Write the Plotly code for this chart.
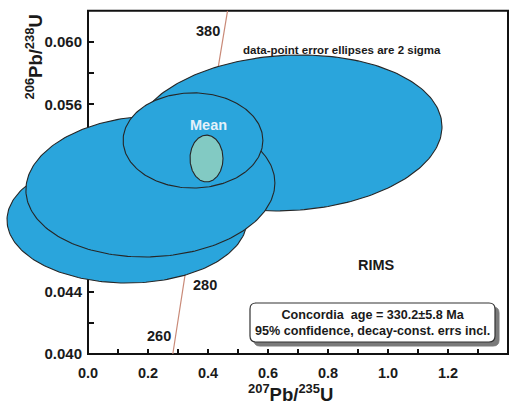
import numpy as np
import plotly.graph_objects as go

# 2-sigma error ellipses of the rim analyses (207Pb/235U vs 206Pb/238U)
spot_x = [0.130, 0.667, 0.208, 0.350]
spot_sx = [0.400, 0.513, 0.415, 0.233]
spot_y = [0.04859, 0.05417, 0.05074, 0.05369]
spot_sy = [0.00404, 0.00500, 0.00452, 0.00305]
spot_rho = [0.00, 0.08, 0.05, 0.00]

# weighted mean (concordia age) ellipse
mean_x = 0.395
mean_sx = 0.055
mean_y = 0.05253
mean_sy = 0.00150
mean_rho = 0.0

# concordia curve, ages in Ma
conc_age = [252.8, 260, 280, 300, 320, 340, 360, 380, 387.8]
conc_x = [0.2827, 0.29183, 0.31753, 0.34374, 0.37047, 0.39773, 0.42553, 0.45389, 0.4651]
conc_y = [0.0400, 0.041157, 0.044392, 0.047637, 0.050893, 0.054158, 0.057434, 0.060719, 0.0620]
age_labels = [260, 280, 380]

x_ticks = [0.0, 0.2, 0.4, 0.6, 0.8, 1.0, 1.2, 1.4]
x_minor = [0.1, 0.3, 0.5, 0.7, 0.9, 1.1, 1.3]
y_ticks = [0.040, 0.044, 0.048, 0.052, 0.056, 0.060]
y_minor = [0.042, 0.046, 0.050, 0.054, 0.058]

W, H = 518, 404
X0_PX, XSCALE = 88, 300.0      # pixel of x=0, pixels per unit
Y0_PX, YSCALE = 354, 15600.0   # pixel of y=0.040, pixels per unit
x_range = [-X0_PX / XSCALE, (W - X0_PX) / XSCALE]
y_range = [0.040 - (H - Y0_PX) / YSCALE, 0.040 + Y0_PX / YSCALE]

FONT = "Liberation Sans"
BLUE = "#2AA5DC"
TEAL = "#82CAC3"
EDGE = "#262626"


def ellipse(cx, sx, cy, sy, rho, n=241):
    t = np.linspace(0, 2 * np.pi, n)
    ex = cx + sx * np.cos(t)
    ey = cy + sy * (rho * np.cos(t) + np.sqrt(1 - rho ** 2) * np.sin(t))
    return ex, ey


fig = go.Figure()

# concordia line
fig.add_trace(go.Scatter(x=conc_x, y=conc_y, mode="lines",
                         line=dict(color="#C98A78", width=1.2),
                         hoverinfo="skip", showlegend=False))

# data-point ellipses, drawn back to front
for i in [0, 1, 2, 3]:
    ex, ey = ellipse(spot_x[i], spot_sx[i], spot_y[i], spot_sy[i], spot_rho[i])
    fig.add_trace(go.Scatter(x=ex, y=ey, mode="lines", fill="toself",
                             fillcolor=BLUE, line=dict(color=EDGE, width=1.1),
                             hoverinfo="skip", showlegend=False))

ex, ey = ellipse(mean_x, mean_sx, mean_y, mean_sy, mean_rho)
fig.add_trace(go.Scatter(x=ex, y=ey, mode="lines", fill="toself",
                         fillcolor=TEAL, line=dict(color=EDGE, width=1.1),
                         hoverinfo="skip", showlegend=False))

# plot frame
fig.add_shape(type="rect", xref="x", yref="y", x0=0.0, x1=1.4, y0=0.040, y1=0.062,
              line=dict(color="#111111", width=2), layer="below")


def rounded_box(x0, x1, y0, y1, rx, ry):
    return (f"M {x0 + rx},{y0} L {x1 - rx},{y0} Q {x1},{y0} {x1},{y0 + ry} "
            f"L {x1},{y1 - ry} Q {x1},{y1} {x1 - rx},{y1} L {x0 + rx},{y1} "
            f"Q {x0},{y1} {x0},{y1 - ry} L {x0},{y0 + ry} Q {x0},{y0} {x0 + rx},{y0} Z")


bx0, bx1 = (250 - X0_PX) / XSCALE, (495 - X0_PX) / XSCALE
by0, by1 = 0.040 + (Y0_PX - 342) / YSCALE, 0.040 + (Y0_PX - 303) / YSCALE
rx, ry = 6 / XSCALE, 6 / YSCALE
dx, dy = 4 / XSCALE, 4 / YSCALE
fig.add_shape(type="path", xref="x", yref="y",
              path=rounded_box(bx0 + dx, bx1 + dx, by0 - dy, by1 - dy, rx, ry),
              fillcolor="#7a7a7a", line=dict(color="#7a7a7a", width=1), layer="above")
fig.add_shape(type="path", xref="x", yref="y",
              path=rounded_box(bx0, bx1, by0, by1, rx, ry),
              fillcolor="white", line=dict(color="#333333", width=1.2), layer="above")

annotations = [
    dict(x=(bx0 + bx1) / 2, y=(by0 + by1) / 2, xref="x", yref="y",
         text="Concordia  age = 330.2±5.8 Ma<br>95% confidence, decay-const. errs incl.",
         showarrow=False, font=dict(family=FONT, size=12.6, color="#1a1a1a", weight="bold")),
    dict(x=0.847, y=0.05949, xref="x", yref="y", text="data-point error ellipses are 2 sigma",
         showarrow=False, font=dict(family=FONT, size=11.5, color="#1a1a1a", weight="bold")),
    dict(x=0.963, y=0.04571, xref="x", yref="y", text="RIMS",
         showarrow=False, font=dict(family=FONT, size=14.5, color="#1a1a1a", weight="bold")),
    dict(x=0.400, y=0.05468, xref="x", yref="y", text="Mean",
         showarrow=False, font=dict(family=FONT, size=14.5, color="#E4F1FA", weight="bold")),
    dict(x=20 / W, y=(H - 13) / H, xref="paper", yref="paper", yanchor="top",
         text="<sup>206</sup>Pb/<sup>238</sup>U", textangle=-90, showarrow=False,
         font=dict(family=FONT, size=18.5, color="#1a1a1a", weight="bold")),
    dict(x=290 / W, y=0, xref="paper", yref="paper", yanchor="bottom", yshift=-3,
         text="<sup>207</sup>Pb/<sup>235</sup>U", showarrow=False,
         font=dict(family=FONT, size=18.5, color="#1a1a1a", weight="bold")),
]

# age labels along the concordia
label_side = {260: ("right", -3), 280: ("left", 8), 380: ("right", -2)}
for age in age_labels:
    i = conc_age.index(age)
    anchor, shift = label_side[age]
    annotations.append(dict(x=conc_x[i], y=conc_y[i], xref="x", yref="y", text=str(age),
                            xanchor=anchor, xshift=shift, showarrow=False,
                            font=dict(family=FONT, size=14.5, color="#1a1a1a", weight="bold")))

axis_common = dict(showgrid=False, zeroline=False, showline=False, ticks="inside",
                   ticklen=5, tickwidth=2, tickcolor="#111111", layer="below traces",
                   anchor="free")

fig.update_layout(
    width=W, height=H, autosize=False,
    margin=dict(l=0, r=0, t=0, b=0, pad=0),
    paper_bgcolor="white", plot_bgcolor="white",
    showlegend=False,
    xaxis=dict(range=x_range, domain=[0, 1], position=(H - Y0_PX) / H,
               tickmode="array", tickvals=x_ticks, ticktext=[f"{v:.1f}" for v in x_ticks],
               minor=dict(tickmode="array", tickvals=x_minor, ticks="inside", ticklen=5,
                          tickwidth=2, tickcolor="#111111"),
               tickfont=dict(family=FONT, size=14.5, color="#1a1a1a", weight="bold"),
               ticklabelstandoff=8, **axis_common),
    yaxis=dict(range=y_range, domain=[0, 1], position=X0_PX / W,
               tickmode="array", tickvals=y_ticks, ticktext=[f"{v:.3f}" for v in y_ticks],
               minor=dict(tickmode="array", tickvals=y_minor, ticks="inside", ticklen=5,
                          tickwidth=2, tickcolor="#111111"),
               tickfont=dict(family=FONT, size=15, color="#1a1a1a", weight="bold"),
               ticklabelstandoff=6, **axis_common),
    annotations=annotations,
)

fig.write_html("out.html")
